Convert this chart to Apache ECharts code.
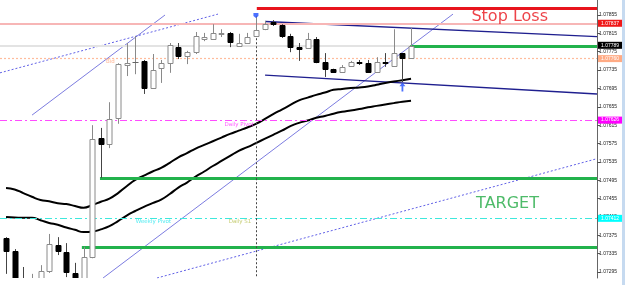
<!DOCTYPE html>
<html><head><meta charset="utf-8">
<script src="https://cdn.jsdelivr.net/npm/echarts@6/dist/echarts.min.js"></script>
<style>html,body{margin:0;padding:0;background:#fff}#c{width:625px;height:307px}</style>
</head><body><div id="c"></div>
<script>
// ---- candle data (index = bar number, left to right) ----
const opens  = [1.07369,1.07341,1.07272,1.07270,1.07270,1.07297,1.07354,1.07339,1.07293,1.07272,1.07328,1.07587,1.07574,1.07631,1.07746,1.07752,1.07755,1.07696,1.07740,1.07750,1.07785,1.07766,1.07774,1.07803,1.07803,1.07814,1.07816,1.07787,1.07794,1.07809,1.07824,1.07840,1.07833,1.07809,1.07785,1.07783,1.07803,1.07753,1.07737,1.07731,1.07744,1.07753,1.07750,1.07731,1.07753,1.07744,1.07772,1.07761];
const closes = [1.07341,1.07280,1.07268,1.07275,1.07297,1.07356,1.07341,1.07295,1.07275,1.07328,1.07585,1.07574,1.07628,1.07748,1.07750,1.07752,1.07696,1.07735,1.07750,1.07790,1.07766,1.07774,1.07809,1.07807,1.07816,1.07816,1.07796,1.07794,1.07807,1.07822,1.07835,1.07835,1.07809,1.07785,1.07781,1.07803,1.07753,1.07737,1.07731,1.07742,1.07753,1.07750,1.07731,1.07753,1.07750,1.07772,1.07761,1.07787];
const lows   = [1.07291,1.07262,1.07255,1.07260,1.07262,1.07293,1.07332,1.07284,1.07262,1.07262,1.07325,1.07500,1.07565,1.07618,1.07722,1.07726,1.07683,1.07694,1.07707,1.07729,1.07759,1.07748,1.07770,1.07798,1.07801,1.07807,1.07785,1.07787,1.07792,1.07807,1.07822,1.07831,1.07805,1.07774,1.07755,1.07781,1.07750,1.07720,1.07729,1.07729,1.07742,1.07746,1.07729,1.07729,1.07742,1.07742,1.07709,1.07761];
const highs  = [1.07371,1.07345,1.07306,1.07291,1.07310,1.07378,1.07371,1.07358,1.07315,1.07350,1.07615,1.07609,1.07665,1.07750,1.07794,1.07809,1.07757,1.07770,1.07757,1.07794,1.07794,1.07777,1.07818,1.07816,1.07835,1.07824,1.07818,1.07814,1.07816,1.07853,1.07842,1.07844,1.07835,1.07814,1.07794,1.07816,1.07807,1.07772,1.07738,1.07746,1.07755,1.07757,1.07757,1.07763,1.07772,1.07824,1.07772,1.07827];

// ---- moving averages ----
const maFast = [1.07478,1.07475,1.07467,1.07459,1.07452,1.07449,1.07445,1.07443,1.07439,1.07435,1.07441,1.07448,1.07455,1.07467,1.07482,1.07496,1.07505,1.07514,1.07522,1.07533,1.07545,1.07554,1.07564,1.07572,1.07580,1.07588,1.07596,1.07603,1.07610,1.07618,1.07628,1.07639,1.07649,1.07659,1.07669,1.07675,1.07681,1.07686,1.07692,1.07694,1.07696,1.07697,1.07699,1.07703,1.07707,1.07710,1.07713,1.07716];
const maSlow = [1.07415,1.07414,1.07413,1.07413,1.07408,1.07402,1.07398,1.07392,1.07387,1.07382,1.07383,1.07388,1.07395,1.07406,1.07418,1.07428,1.07437,1.07445,1.07453,1.07465,1.07479,1.07490,1.07503,1.07514,1.07526,1.07537,1.07548,1.07559,1.07567,1.07576,1.07585,1.07594,1.07603,1.07613,1.07620,1.07625,1.07631,1.07635,1.07640,1.07644,1.07647,1.07650,1.07654,1.07657,1.07660,1.07663,1.07666,1.07668];

// ---- price axis tick labels ----
const priceTicks = [1.07295,1.07335,1.07375,1.07415,1.07455,1.07495,1.07535,1.07575,1.07615,1.07655,1.07695,1.07735,1.07775,1.07815,1.07855];

// ---- levels ----
const stopLossLevel = 1.07870, stopLossStart = 29.1;
const upperLevel = 1.07837;
const bidLevel = 1.07789;
const askLevel = 1.07760;
const dailyPivot = 1.07626;
const weeklyPivot = 1.07412;
const greenLevels = [1.07787, 1.07500, 1.07350];
const greenStarts = [46.9, 10.9, 8.8];

// ---- trend lines [barIndex, price] ----
const channelUpper = [[30.06, 1.07841], [68.58, 1.07808]];
const channelLower = [[30.06, 1.07724], [68.58, 1.07683]];
const trendA = [[3.02, 1.07637], [18.45, 1.07855]];
const trendB = [[-0.70, 1.07729], [24.6, 1.07857]];
const trendC = [[11.26, 1.07282], [51.87, 1.07857]];
const trendD = [[17.52, 1.07282], [68.58, 1.07542]];
const signalBar = 29, signalTop = 1.07848;
const topMarker = [[29, 1.07854]];
const upArrow = [[46, 1.07698]];

const X_MIN = -0.70, X_MAX = 68.58, Y_MIN = 1.07282, Y_MAX = 1.078877;

const candleData = opens.map((o, i) => [i, o, closes[i], lows[i], highs[i]]);
const idx = maFast.map((_, i) => i);

const chart = echarts.init(document.getElementById('c'));

function level(x1, v, style, lbl) {
  const a = { coord: [x1, v], lineStyle: style };
  a.label = lbl ? Object.assign({ show: true, position: 'end', distance: 1, formatter: v.toFixed(5),
      fontSize: 5, fontFamily: 'Liberation Sans', padding: [1, 4, 1, 3], color: '#fff' }, lbl) : { show: false };
  return [a, { coord: [X_MAX, v] }];
}
function levelSeries(z, data) {
  return { type: 'line', data: [], z, markLine: { symbol: 'none', silent: true, animation: false, data } };
}
function trend(data, color, type, width) {
  return { type: 'line', data, symbol: 'none', silent: true, clip: true,
    lineStyle: { color, width: width || 1, type: type || 'solid' }, z: 3 };
}

const option = {
  animation: false,
  backgroundColor: '#fff',
  grid: { left: 0, right: 28, top: 0, bottom: 29 },
  xAxis: { type: 'value', min: X_MIN, max: X_MAX, show: false },
  yAxis: {
    type: 'value', position: 'right', min: Y_MIN, max: Y_MAX, scale: true,
    splitLine: { show: false },
    axisLine: { show: true, onZero: false, lineStyle: { color: '#666', width: 1 } },
    axisTick: { show: true, length: 3, lineStyle: { color: '#555' }, customValues: priceTicks },
    axisLabel: { show: true, margin: 2, fontSize: 5, color: '#222', fontFamily: 'Liberation Sans',
      customValues: priceTicks, formatter: v => v.toFixed(5) }
  },
  graphic: [{ type: 'rect', right: 0, top: 0, shape: { width: 3, height: 285 }, style: { fill: '#c6daf0' }, z: 10 }],
  series: [
    levelSeries(1, [
      level(X_MIN, upperLevel, { color: '#f7b6b6', width: 2, type: 'solid' }, { backgroundColor: '#f01818' }),
      level(X_MIN, bidLevel, { color: '#e3e3e3', width: 2, type: 'solid' }, { backgroundColor: '#000' }),
      level(X_MIN, askLevel, { color: '#ffbc9c', width: 1.2, type: [2, 2] }, { backgroundColor: '#ffab85' }),
      level(X_MIN, dailyPivot, { color: '#ff4cff', width: 1.2, type: [7, 3, 2, 3] }, { backgroundColor: '#ff00ff' }),
      level(X_MIN, weeklyPivot, { color: '#3ee8dc', width: 1.2, type: [7, 3, 2, 3] }, { backgroundColor: '#00ffff' })
    ]),
    levelSeries(2, greenLevels.map((v, i) => level(greenStarts[i], v, { color: '#22b24c', width: 3, type: 'solid' }))
      .concat([
        level(stopLossStart, stopLossLevel, { color: '#e8141c', width: 3, type: 'solid' }),
        [{ coord: [signalBar, signalTop], lineStyle: { color: '#444', width: 1, type: [2, 2] }, label: { show: false } },
         { coord: [signalBar, Y_MIN] }]
      ])),
    trend(trendA, '#7c7ce0', 'solid', 1),
    trend(trendB, '#6060e6', [2, 2], 1),
    trend(trendC, '#7c7ce0', 'solid', 1),
    trend(trendD, '#6060e6', [2, 2], 1),
    trend(channelUpper, '#1f1f8f', 'solid', 1.4),
    trend(channelLower, '#1f1f8f', 'solid', 1.4),
    { type: 'line', data: idx.map(i => [i, maFast[i]]), symbol: 'none', smooth: true, clip: true,
      lineStyle: { color: '#000', width: 2 }, z: 4 },
    { type: 'line', data: idx.map(i => [i, maSlow[i]]), symbol: 'none', smooth: true, clip: true,
      lineStyle: { color: '#000', width: 2 }, z: 4 },
    { type: 'custom', data: candleData, clip: true, z: 5,
      encode: { x: 0, y: [1, 2, 3, 4] },
      renderItem(params, api) {
        const x = api.value(0), o = api.value(1), c = api.value(2), l = api.value(3), h = api.value(4);
        const pO = api.coord([x, o]), pC = api.coord([x, c]), pL = api.coord([x, l]), pH = api.coord([x, h]);
        const cx = Math.round(pO[0]) + 0.5;
        const bull = c >= o;
        const top = Math.round(Math.min(pO[1], pC[1])) + 0.5;
        const bot = Math.round(Math.max(pO[1], pC[1])) + 0.5;
        const wick = bull ? '#8a8a8a' : '#444';
        return { type: 'group', children: [
          { type: 'line', shape: { x1: cx, y1: pH[1], x2: cx, y2: top }, style: { stroke: wick, lineWidth: 1 } },
          { type: 'line', shape: { x1: cx, y1: bot, x2: cx, y2: pL[1] }, style: { stroke: wick, lineWidth: 1 } },
          bot - top < 1
            ? { type: 'line', shape: { x1: cx - 3, y1: top, x2: cx + 3, y2: top }, style: { stroke: bull ? '#666' : '#000', lineWidth: 1 } }
            : { type: 'rect', shape: { x: cx - 2.5, y: top, width: 5, height: bot - top },
                style: { fill: bull ? '#fff' : '#000', stroke: bull ? '#8a8a8a' : '#000', lineWidth: 1 } }
        ] };
      } },
    { type: 'scatter', data: topMarker, symbol: 'path://M0,0 L10,0 L10,6 L5,10 L0,6 Z', symbolSize: [5, 5],
      itemStyle: { color: '#1e4cff' }, z: 6, silent: true },
    { type: 'scatter', data: upArrow, symbol: 'path://M5,0 L10,5 L6.5,5 L6.5,12 L3.5,12 L3.5,5 L0,5 Z', symbolSize: [6, 9],
      itemStyle: { color: '#1e4cff' }, z: 6, silent: true },
    { type: 'scatter', symbolSize: 0, z: 7, silent: true, clip: false,
      label: { show: true, position: 'inside', formatter: p => p.data.name },
      data: [
        { name: 'Stop Loss', value: [58.45, 1.078506], label: { color: '#e8141c', fontSize: 16, fontFamily: 'DejaVu Sans' } },
        { name: 'TARGET', value: [58.2, 1.07443], label: { color: '#22aa44', fontSize: 16, fontFamily: 'DejaVu Sans' } },
        { name: 'Daily Pivot', value: [27.05, 1.07617], label: { color: '#ff33ff', fontSize: 5.5, fontFamily: 'DejaVu Sans' } },
        { name: 'Weekly Pivot', value: [17.1, 1.07404], label: { color: '#22e6ee', fontSize: 5.5, fontFamily: 'DejaVu Sans' } },
        { name: 'Daily S1', value: [27.15, 1.07406], label: { color: '#b8c050', fontSize: 5.5, fontFamily: 'DejaVu Sans' } },
        { name: 'Bid', value: [12.1, 1.07753], label: { color: '#ffa880', fontSize: 5.5, fontFamily: 'DejaVu Sans' } }
      ] }
  ]
};
chart.setOption(option);
</script></body></html>
